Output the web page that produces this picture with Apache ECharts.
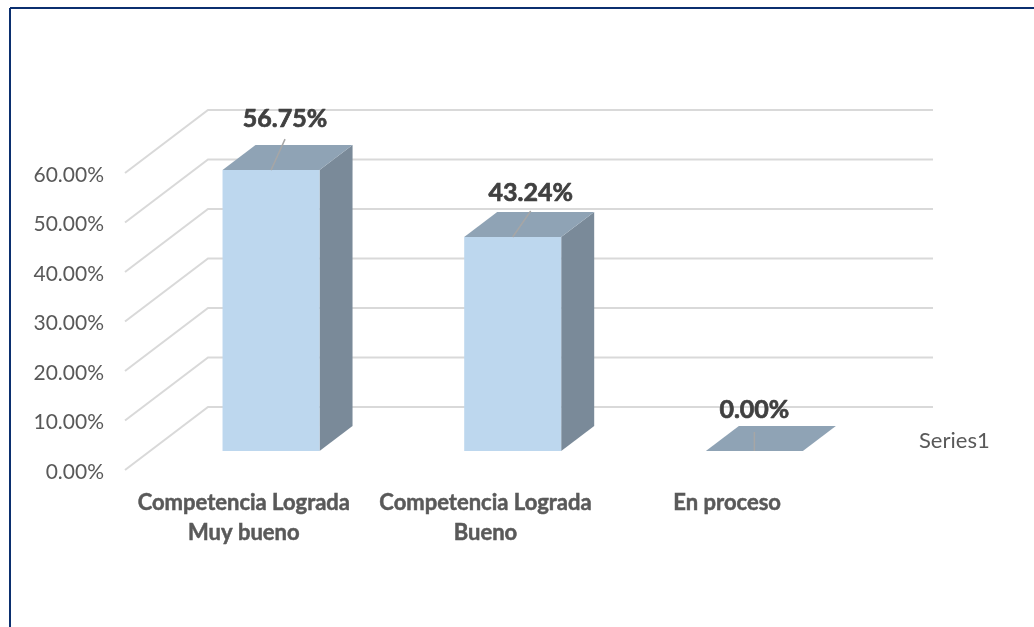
<!DOCTYPE html>
<html>
<head>
<meta charset="utf-8">
<style>html,body{margin:0;padding:0;background:#fff}#c{width:1034px;height:627px}</style>
<script src="https://cdn.jsdelivr.net/npm/echarts@6/dist/echarts.min.js"></script>
</head>
<body>
<div id="c"></div>
<script>
const categories = ['Competencia Lograda\nMuy bueno', 'Competencia Lograda\nBueno', 'En proceso'];
const values = [56.75, 43.24, 0];
const valueLabels = ['56.75%', '43.24%', '0.00%'];
const yTicks = [0, 10, 20, 30, 40, 50, 60];
const seriesName = 'Series1';

// Perspective layout (pixels): floor depth and bar placement
const wall = { startDx: 2, dx: 85, dy: -63 };
const bar = { dx: 27.2, dy: -19, width: 97, depthX: 33, depthY: -25 };
const leaders = [[14, -31], [18, -26], [0, -19]];
const labelGap = [[14, -51], [18, -44], [0, -41]];

const FONT = 'Lato';
const chart = echarts.init(document.getElementById('c'), null, { renderer: 'canvas' });

function wallItem(params, api) {
  const p = api.coord([0, api.value(0)]);
  const x0 = params.coordSys.x;
  const x1 = x0 + params.coordSys.width;
  return {
    type: 'polyline',
    shape: { points: [[x0 + wall.startDx, p[1]], [x0 + wall.dx, p[1] + wall.dy], [x1 + wall.dx, p[1] + wall.dy]] },
    style: { stroke: '#d9d9d9', lineWidth: 2, fill: null }
  };
}

function barItem(params, api) {
  const i = api.value(0);
  const top = api.coord([i, api.value(1)]);
  const base = api.coord([i, 0]);
  const l = top[0] + bar.dx - bar.width / 2;
  const r = l + bar.width;
  const ty = top[1] + bar.dy;
  const by = base[1] + bar.dy;
  const cx = top[0] + bar.dx;
  const lead = leaders[i];
  const gap = labelGap[i];
  const children = [
    { type: 'polygon', shape: { points: [[r, ty], [r + bar.depthX, ty + bar.depthY], [r + bar.depthX, by + bar.depthY], [r, by]] },
      style: { fill: '#7a8a99' } },
    { type: 'polygon', shape: { points: [[l, ty], [l + bar.depthX, ty + bar.depthY], [r + bar.depthX, ty + bar.depthY], [r, ty]] },
      style: { fill: '#8fa3b5' } },
    { type: 'rect', shape: { x: l, y: ty, width: bar.width, height: by - ty },
      style: { fill: '#bdd7ee' } },
    { type: 'line', shape: { x1: cx, y1: ty, x2: cx + lead[0], y2: ty + lead[1] },
      style: { stroke: '#a6a6a6', lineWidth: 1.5 } },
    { type: 'text', x: cx + gap[0], y: ty + gap[1],
      style: { text: valueLabels[i], fill: '#404040', font: 'bold 25px ' + FONT, textAlign: 'center', textVerticalAlign: 'middle',
        stroke: '#404040', lineWidth: 0.7 } }
  ];
  return { type: 'group', children };
}

chart.setOption({
  animation: false,
  backgroundColor: '#ffffff',
  grid: { left: 123, top: 173, width: 725, height: 297, containLabel: false },
  legend: {
    show: true, left: 914, top: 430, padding: 0, icon: 'none', itemWidth: 0, itemHeight: 0, itemGap: 0,
    data: [seriesName],
    selectedMode: false,
    textStyle: { color: '#595959', fontSize: 22, fontFamily: FONT, padding: 0 }
  },
  xAxis: {
    type: 'category', data: categories,
    axisLine: { show: false }, axisTick: { show: false }, splitLine: { show: false },
    axisLabel: { interval: 0, color: '#595959', fontSize: 22, fontWeight: 'bold', fontFamily: FONT, lineHeight: 30, margin: 18,
      textBorderColor: '#595959', textBorderWidth: 0.5 }
  },
  yAxis: {
    type: 'value', min: yTicks[0], max: yTicks[yTicks.length - 1], interval: 10,
    axisLine: { show: false }, axisTick: { show: false }, splitLine: { show: false },
    axisLabel: { color: '#595959', fontSize: 21, fontFamily: FONT, margin: 19, verticalAlign: 'top', lineHeight: 4, formatter: v => v.toFixed(2) + '%' }
  },
  graphic: [
    { type: 'line', z: 100, shape: { x1: 10, y1: 8, x2: 1034, y2: 8 }, style: { stroke: '#0b2f6f', lineWidth: 2 } },
    { type: 'line', z: 100, shape: { x1: 10, y1: 8, x2: 10, y2: 627 }, style: { stroke: '#0b2f6f', lineWidth: 2 } }
  ],
  series: [
    { name: 'walls', type: 'custom', z: 1, silent: true, renderItem: wallItem, encode: { y: 0 },
      data: yTicks.map(t => [t]) },
    { name: seriesName, type: 'custom', z: 2, renderItem: barItem, encode: { x: 0, y: 1 },
      itemStyle: { color: '#bdd7ee' },
      data: values.map((v, i) => [i, v]) }
  ]
});
</script>
</body>
</html>
